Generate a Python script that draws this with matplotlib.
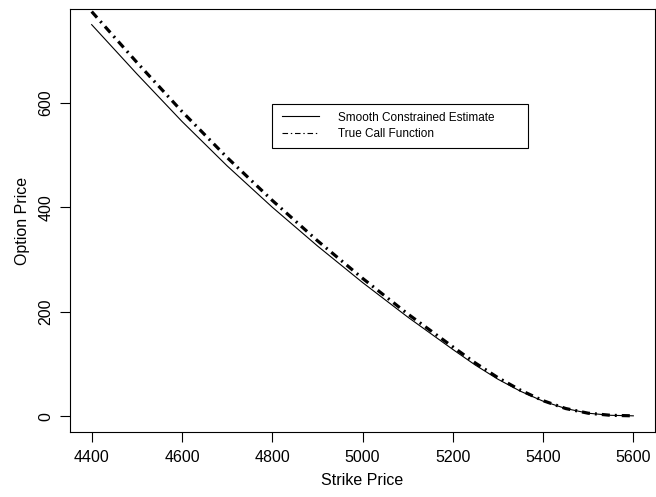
import matplotlib
matplotlib.use("Agg")
import matplotlib.pyplot as plt
from matplotlib.lines import Line2D
from matplotlib.patches import Rectangle

# values
strikes = [4400, 4500, 4600, 4700, 4800, 4900, 5000, 5100, 5200,
           5250, 5300, 5350, 5400, 5450, 5500, 5550, 5600]
smooth_est = [749, 655, 564, 479, 400, 326, 256, 190, 128,
              98, 71, 48, 29, 15, 6, 2, 1]
true_call = [774, 677, 583, 495, 413, 336, 264, 196, 133,
             102, 74, 50, 30, 15, 6, 2, 1]

xticks = [4400, 4600, 4800, 5000, 5200, 5400, 5600]
yticks = [0, 200, 400, 600]

plt.rcParams["font.family"] = ["Liberation Sans", "DejaVu Sans"]
plt.rcParams["lines.scale_dashes"] = False

fig = plt.figure(figsize=(6.56, 4.97), dpi=100)
ax = fig.add_axes([70 / 656, 1 - 432 / 497, 585 / 656, 423 / 497])

ax.plot(strikes, smooth_est, color="black", lw=0.8)
ax.plot(strikes, true_call, color="black", lw=2.3,
        dashes=(5.8, 3.6, 1.4, 3.6), dash_capstyle="butt")

# R-style 4% padding around the estimate
xr = max(strikes) - min(strikes)
ax.set_xlim(min(strikes) - 0.04 * xr, max(strikes) + 0.04 * xr)
yr = max(smooth_est) - min(smooth_est)
ax.set_ylim(min(smooth_est) - 0.04 * yr - 1, max(smooth_est) + 0.04 * yr)

ax.set_xticks(xticks)
ax.set_yticks(yticks)
ax.tick_params(direction="out", length=7, width=0.8, labelsize=11.5)
ax.tick_params(axis="x", pad=6)
ax.tick_params(axis="y", pad=5)
plt.setp(ax.get_yticklabels(), rotation=90, va="center")
for s in ax.spines.values():
    s.set_linewidth(0.8)

ax.set_xlabel("Strike Price", fontsize=11.5, labelpad=6)
ax.set_ylabel("Option Price", fontsize=11.5, labelpad=6)

# legend box, drawn R style with wide right padding
fig.patches.append(Rectangle((272 / 656, 1 - 148 / 497), 256 / 656, 44 / 497,
                             transform=fig.transFigure, facecolor="white",
                             edgecolor="black", lw=0.8, zorder=5))
handles = [Line2D([], [], color="black", lw=0.8),
           Line2D([], [], color="black", lw=0.8, dashes=(4, 2, 1, 2))]
leg = ax.legend(handles, ["Smooth Constrained Estimate", "True Call Function"],
                loc="upper left", bbox_to_anchor=(278 / 656, 1 - 108 / 497),
                bbox_transform=fig.transFigure, frameon=False,
                fontsize=8.5, handlelength=3.2, borderpad=0.3,
                labelspacing=0.35, handletextpad=1.6, borderaxespad=0)
leg.set_zorder(6)
fig.legends.append(leg)
ax.get_legend().remove()

fig.savefig("out.png", dpi=100)
